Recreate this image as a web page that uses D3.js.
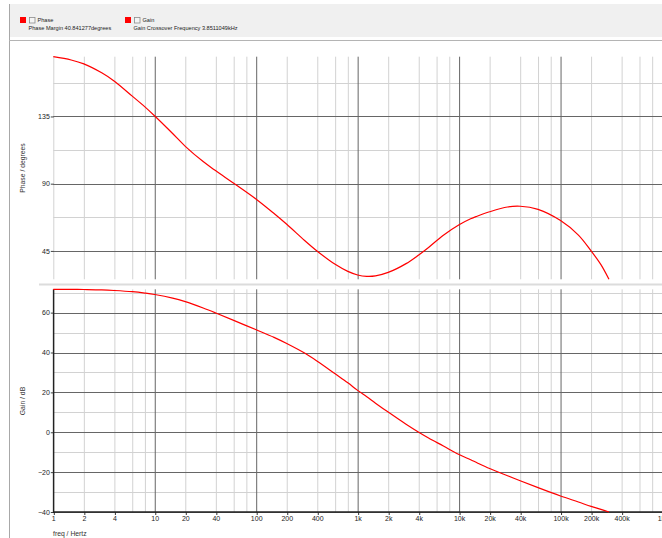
<!DOCTYPE html>
<html>
<head>
<meta charset="utf-8">
<script src="https://cdn.jsdelivr.net/npm/d3@7"></script>
<style>
  body { margin: 0; background: #fff; }
  svg { display: block; font-family: "Liberation Sans", Arial, sans-serif; }
</style>
</head>
<body>
<svg id="canvas" width="662" height="538"></svg>
<script>
var W = 662, H = 538;

// frequency points (Hz) with phase (degrees) and gain (dB)
var freq  = [1, 1.5, 2, 3, 4, 6, 8, 10, 15, 20, 30, 40, 60, 100, 150, 200, 300, 400, 600, 800,
             1000, 1230, 1500, 2000, 3000, 4000, 5000, 7000, 10000, 13000, 15000, 20000, 30000, 40000,
             60000, 100000, 150000, 200000, 250000, 300000];
var phase = [175, 172.8, 170.2, 164.2, 158.6, 148.6, 141.4, 135.3, 123.6, 115.0, 104.8, 98.6, 90.3, 79.6, 70.0, 62.8, 52.0, 44.8, 36.0, 31.3,
             28.9, 28.0, 28.3, 30.6, 36.5, 42.3, 47.3, 55.5, 62.5, 66.5, 68.2, 71.2, 74.4, 74.9,
             72.8, 65.3, 55.6, 45.0, 35.8, 26.0];
var gain  = [71.7, 71.7, 71.6, 71.4, 71.1, 70.5, 69.8, 69.1, 67.3, 65.5, 62.3, 59.8, 56.1, 51.4, 47.6, 44.5, 39.7, 35.6, 29.3, 24.8,
             21.0, 17.8, 14.6, 10.1, 4.0, 0.0, -2.9, -6.9, -11.2, -13.8, -15.3, -18.2, -21.8, -24.3,
             -27.8, -32.0, -35.0, -37.2, -38.7, -40.0];

var phaseMajor = [45, 90, 135];
var phaseMinor = [67.5, 112.5, 157.5];
var gainMajor = [-40, -20, 0, 20, 40, 60];
var gainMinor = [-30, -10, 10, 30, 50, 70];
var xLabelTicks = [1, 2, 4, 10, 20, 40, 100, 200, 400, 1e3, 2e3, 4e3, 1e4, 2e4, 4e4, 1e5, 2e5, 4e5, 1e6];
var xLabelText = ['1', '2', '4', '10', '20', '40', '100', '200', '400', '1k', '2k', '4k', '10k', '20k', '40k', '100k', '200k', '400k', '1M'];
var mantissas = [1, 2, 4, 6, 8];

var legendItems = [
  {name: 'Phase', info: 'Phase Margin  40.841277degrees', x: 20},
  {name: 'Gain', info: 'Gain Crossover Frequency  3.8511049kHz', x: 125}
];

var majorCol = '#666', minorCol = '#d2d2d2';

var svg = d3.select('#canvas');
svg.append('rect').attr('width', W).attr('height', H).attr('fill', '#fff');

// header band
svg.append('rect').attr('x', 9).attr('y', 4).attr('width', W - 9).attr('height', 33).attr('fill', '#f0f0f0');
svg.append('line').attr('x1', 9.5).attr('x2', 9.5).attr('y1', 4).attr('y2', H).attr('stroke', '#a8a8a8');
svg.append('line').attr('x1', 9).attr('x2', W).attr('y1', 40.5).attr('y2', 40.5).attr('stroke', '#b4b4b4');

var leg = svg.selectAll('.leg').data(legendItems).join('g')
  .attr('class', 'leg')
  .attr('transform', d => 'translate(' + d.x + ',0)');
leg.append('rect').attr('x', 0).attr('y', 17).attr('width', 6).attr('height', 6).attr('fill', '#ff0000');
leg.append('rect').attr('x', 9.5).attr('y', 17.5).attr('width', 5.5).attr('height', 5.5)
  .attr('fill', '#f4f4f4').attr('stroke', '#8c8c8c').attr('stroke-width', 0.8);
leg.append('text').attr('x', 17.5).attr('y', 22.3).attr('font-size', 5.6).attr('fill', '#222').text(d => d.name);
leg.append('text').attr('x', 8.5).attr('y', 30.3).attr('font-size', 5.6).attr('fill', '#222').text(d => d.info);

// scales
var x = d3.scaleLog().domain([1, 1e6]).range([53.3, 662]);
var yP = d3.scaleLinear().domain(d3.extent(phase)).range([279.3, 56.7]);
var yG = d3.scaleLinear().domain(d3.extent(gain)).range([512, 289.3]);

var gridX = [];
for (var e = 0; e < 6; e++) {
  mantissas.forEach(m => gridX.push(m * Math.pow(10, e)));
}
gridX.push(1e6);

function isDecade(v) { return Math.abs(Math.log10(v) - Math.round(Math.log10(v))) < 1e-9; }

// separator between panels
svg.append('line').attr('x1', 39).attr('x2', W).attr('y1', 284.5).attr('y2', 284.5)
  .attr('stroke', '#dcdcdc').attr('stroke-width', 2);

function drawPanel(y, majors, minors, top, bottom, leftDark) {
  var g = svg.append('g');
  g.selectAll('.vmin').data(gridX.filter(v => !isDecade(v) || (v == 1 && !leftDark))).join('line')
    .attr('x1', d => x(d) + 0.5).attr('x2', d => x(d) + 0.5)
    .attr('y1', top).attr('y2', bottom).attr('stroke', minorCol);
  g.selectAll('.hmin').data(minors).join('line')
    .attr('x1', x(1)).attr('x2', W).attr('y1', d => Math.round(y(d)) + 0.5).attr('y2', d => Math.round(y(d)) + 0.5)
    .attr('stroke', minorCol);
  g.selectAll('.vmaj').data(gridX.filter(v => isDecade(v) && v > 1)).join('line')
    .attr('x1', d => x(d) + 0.5).attr('x2', d => x(d) + 0.5)
    .attr('y1', top).attr('y2', bottom).attr('stroke', majorCol);
  g.selectAll('.hmaj').data(majors).join('line')
    .attr('x1', x(1)).attr('x2', W).attr('y1', d => Math.round(y(d)) + 0.5).attr('y2', d => Math.round(y(d)) + 0.5)
    .attr('stroke', majorCol);

  var ax = g.append('g').attr('transform', 'translate(' + (x(1) + 0.5) + ',0)')
    .call(d3.axisLeft(y).tickValues(majors).tickSize(3).tickPadding(1).tickFormat(d3.format('d')));
  ax.select('.domain').remove();
  ax.selectAll('line').attr('stroke', '#444');
  ax.selectAll('text').attr('font-size', 7).attr('fill', '#222').attr('font-family', null);
  return g;
}

drawPanel(yP, phaseMajor, phaseMinor, 56.7, 279.3, false);
drawPanel(yG, gainMajor, gainMinor, 289.3, 512, true);

// bottom axis & left axis line of gain panel
var xa = svg.append('g').attr('transform', 'translate(0,' + 512 + ')')
  .call(d3.axisBottom(x).tickValues(xLabelTicks).tickSize(3).tickPadding(1)
    .tickFormat((d, i) => xLabelText[i]));
xa.select('.domain').remove();
xa.selectAll('line').attr('stroke', '#333').attr('transform', 'translate(0.5,0)');
xa.selectAll('text').attr('font-size', 7).attr('fill', '#222').attr('font-family', null);

svg.append('line').attr('x1', x(1)).attr('x2', W).attr('y1', 512).attr('y2', 512)
  .attr('stroke', '#222').attr('stroke-width', 1.5);
svg.append('line').attr('x1', x(1) + 0.3).attr('x2', x(1) + 0.3).attr('y1', 289.3).attr('y2', 513)
  .attr('stroke', '#222').attr('stroke-width', 1.5);

// curves
var lineP = d3.line().x((d, i) => x(freq[i])).y(d => yP(d)).curve(d3.curveCatmullRom.alpha(0.5));
var lineG = d3.line().x((d, i) => x(freq[i])).y(d => yG(d)).curve(d3.curveCatmullRom.alpha(0.5));
svg.append('path').datum(phase).attr('d', lineP).attr('fill', 'none').attr('stroke', '#ff0000').attr('stroke-width', 1.2);
svg.append('path').datum(gain).attr('d', lineG).attr('fill', 'none').attr('stroke', '#ff0000').attr('stroke-width', 1.2);

// axis titles
svg.append('text').attr('transform', 'translate(24.5,168) rotate(-90)').attr('text-anchor', 'middle')
  .attr('font-size', 6.8).attr('fill', '#333').text('Phase / degrees');
svg.append('text').attr('transform', 'translate(24.5,401) rotate(-90)').attr('text-anchor', 'middle')
  .attr('font-size', 6.8).attr('fill', '#333').text('Gain / dB');
svg.append('text').attr('x', 53).attr('y', 535.5).attr('font-size', 6.8).attr('fill', '#333').text('freq / Hertz');
</script>
</body>
</html>
